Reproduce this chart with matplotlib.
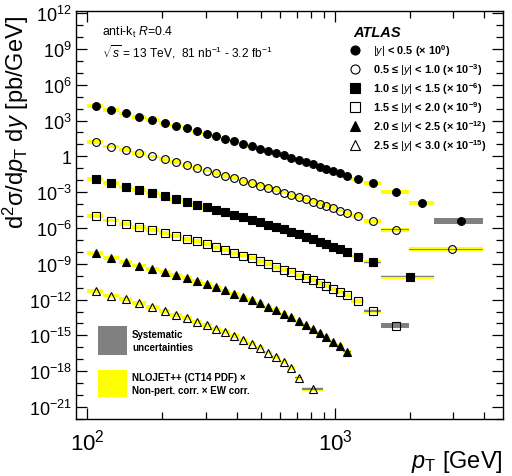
import math
import matplotlib
matplotlib.use('Agg')
import matplotlib.pyplot as plt
from matplotlib.patches import Rectangle
from matplotlib.ticker import FixedLocator, NullFormatter, FuncFormatter

plt.rcParams['font.family'] = ['Liberation Sans', 'DejaVu Sans']
plt.rcParams['mathtext.fontset'] = 'custom'
plt.rcParams['mathtext.rm'] = 'Liberation Sans'
plt.rcParams['mathtext.it'] = 'Liberation Sans:italic'
plt.rcParams['mathtext.bf'] = 'Liberation Sans:bold'

# jet pT bin edges [GeV]
pt_edges = [100, 116, 134, 152, 172, 194, 216, 240, 264, 290, 318, 346, 376, 408,
            442, 478, 516, 556, 598, 642, 688, 736, 786, 838, 894, 952, 1012, 1076,
            1162, 1310, 1530, 1992, 2500, 3937]

edges_y05 = pt_edges
edges_y10 = pt_edges[:32] + [3937]
edges_y15 = pt_edges[:31] + [2500]
edges_y20 = pt_edges[:32]
edges_y25 = pt_edges[:29]
edges_y30 = pt_edges[:22] + [894]

# d2sigma/dpT dy [pb/GeV], before the offset factors
xsec_y05 = [1.72e4, 7.66e3, 3.90e3, 2.10e3, 1.16e3, 662, 378, 220, 131, 77.8,
            47.1, 29.1, 18.0, 11.3, 7.11, 4.48, 2.88, 1.85, 1.19, 0.760,
            0.489, 0.319, 0.209, 0.136, 0.0893, 0.0585, 0.0383, 0.0241, 0.0135, 5.46e-3,
            1.08e-3, 1.22e-4, 3.58e-6]
xsec_y10 = [1.50e4, 6.64e3, 3.36e3, 1.80e3, 986, 561, 318, 185, 109, 64.4,
            38.8, 23.8, 14.7, 9.14, 5.73, 3.58, 2.29, 1.46, 0.933, 0.596,
            0.380, 0.247, 0.161, 0.104, 0.0679, 0.0443, 0.0288, 0.0180, 9.91e-3, 3.61e-3,
            7.13e-4, 1.71e-5]
xsec_y15 = [1.25e4, 5.78e3, 2.89e3, 1.50e3, 809, 453, 259, 151, 89.8, 53.3,
            32.3, 19.9, 12.3, 7.75, 4.79, 3.01, 1.90, 1.19, 0.752, 0.473,
            0.298, 0.188, 0.118, 0.0729, 0.0450, 0.0272, 0.0162, 9.08e-3, 4.05e-3, 1.32e-3,
            8.22e-5]
xsec_y20 = [9.40e3, 4.18e3, 2.13e3, 1.15e3, 644, 368, 215, 127, 75.7, 45.0,
            25.7, 15.0, 8.57, 4.90, 2.86, 1.63, 0.951, 0.555, 0.323, 0.192,
            0.114, 0.0690, 0.0410, 0.0244, 0.0142, 8.28e-3, 4.63e-3, 2.50e-3, 7.57e-4, 1.04e-4,
            6.47e-6]
xsec_y25 = [7.50e3, 3.03e3, 1.48e3, 711, 377, 207, 114, 61.5, 34.4, 19.3,
            10.6, 5.85, 3.22, 1.74, 0.937, 0.495, 0.257, 0.134, 0.0681, 0.0340,
            0.0166, 8.00e-3, 3.70e-3, 1.68e-3, 7.31e-4, 3.07e-4, 1.22e-4, 4.47e-5]
xsec_y30 = [5.52e3, 2.19e3, 1.05e3, 486, 234, 115, 55.0, 27.5, 14.0, 6.98,
            3.56, 1.81, 0.904, 0.427, 0.190, 0.0828, 0.0368, 0.0149, 5.56e-3, 1.75e-3,
            2.96e-4, 3.23e-5]

scales = [1e0, 1e-3, 1e-6, 1e-9, 1e-12, 1e-15]

# systematic uncertainty (multiplicative) for the last bins of each slice
syst_y05 = [1.05, 1.08, 1.75]
syst_y10 = [1.05, 1.1]
syst_y15 = [1.05, 1.1]
syst_y20 = [1.2, 1.65]
syst_y25 = [1.1, 1.15]
syst_y30 = [1.1, 1.15]

labels = [r'$|y|$ < 0.5 (× 10$^{\mathbf{0}}$)',
          r'0.5 ≤ $|y|$ < 1.0 (× 10$^{\mathbf{-3}}$)',
          r'1.0 ≤ $|y|$ < 1.5 (× 10$^{\mathbf{-6}}$)',
          r'1.5 ≤ $|y|$ < 2.0 (× 10$^{\mathbf{-9}}$)',
          r'2.0 ≤ $|y|$ < 2.5 (× 10$^{\mathbf{-12}}$)',
          r'2.5 ≤ $|y|$ < 3.0 (× 10$^{\mathbf{-15}}$)']

all_edges = [edges_y05, edges_y10, edges_y15, edges_y20, edges_y25, edges_y30]
all_xsec = [xsec_y05, xsec_y10, xsec_y15, xsec_y20, xsec_y25, xsec_y30]
all_syst = [syst_y05, syst_y10, syst_y15, syst_y20, syst_y25, syst_y30]
markers = ['o', 'o', 's', 's', '^', '^']
faces = ['black', 'none', 'black', 'none', 'black', 'none']

yellow = '#ffff00'
grey = '#808080'
band = 10 ** 0.16

fig = plt.figure(figsize=(5.12, 4.77), dpi=100)
ax = fig.add_axes([76 / 512, 1 - 420 / 477, 427 / 512, 408 / 477])
ax.set_xscale('log')
ax.set_yscale('log')

for edges, xsec, scale, syst, m, fc in zip(all_edges, all_xsec, scales, all_syst, markers, faces):
    lo = edges[:-1]
    hi = edges[1:]
    w = [b - a for a, b in zip(lo, hi)]
    xc = [(a + b) / 2 for a, b in zip(lo, hi)]
    y = [v * scale for v in xsec]
    ax.bar(lo, [v * band - v / band for v in y], width=w, bottom=[v / band for v in y],
           align='edge', color=yellow, lw=0, zorder=1)
    n = len(syst)
    ax.bar(lo[-n:], [v * f - v / f for v, f in zip(y[-n:], syst)], width=w[-n:],
           bottom=[v / f for v, f in zip(y[-n:], syst)],
           align='edge', color=grey, lw=0, zorder=2)
    ax.plot(xc, y, ls='none', marker=m, ms=5.6, mfc=fc, mec='black', mew=0.8, zorder=3)

ax.set_xlim(90, 4760)
ax.set_ylim(1e-22, 1.5e12)

ax.xaxis.set_major_locator(FixedLocator([100, 1000]))
ax.xaxis.set_minor_locator(FixedLocator([200, 300, 400, 500, 600, 700, 800, 900, 2000, 3000, 4000]))
ax.xaxis.set_minor_formatter(NullFormatter())
ax.yaxis.set_major_locator(FixedLocator([10.0 ** k for k in range(-21, 13, 3)]))
ax.yaxis.set_minor_locator(FixedLocator([10.0 ** k for k in range(-22, 13)]))
ax.yaxis.set_minor_formatter(NullFormatter())


def ylab(v, pos):
    k = int(round(math.log10(v)))
    return '1' if k == 0 else r'$10^{%d}$' % k


ax.yaxis.set_major_formatter(FuncFormatter(ylab))
ax.tick_params(which='both', direction='in', top=True, right=True, width=0.9)
ax.tick_params(which='major', length=8)
ax.tick_params(which='minor', length=5)
ax.tick_params(axis='x', which='major', labelsize=16, pad=7)
ax.tick_params(axis='y', which='major', labelsize=13, pad=3)
for s in ax.spines.values():
    s.set_linewidth(1.0)

ax.set_ylabel(r'd$^{2}$σ/d$p_{\mathrm{T}}$ d$y$ [pb/GeV]', fontsize=17, loc='top')
ax.yaxis.set_label_coords(-0.105, 0.99)
ax.set_xlabel(r'$p_{\mathrm{T}}$ [GeV]', fontsize=17, loc='right')
ax.xaxis.set_label_coords(1.0, -0.072)

ax.text(0.061, 0.951, r'anti-k$_{\mathrm{t}}$ $R$=0.4', transform=ax.transAxes,
        fontsize=8.8, va='center')
ax.text(0.061, 0.902, r'$\sqrt{s}$ = 13 TeV,  81 nb$^{-1}$ - 3.2 fb$^{-1}$',
        transform=ax.transAxes, fontsize=8.6, va='center')

ax.text(0.649, 0.949, 'ATLAS', transform=ax.transAxes, fontsize=10.5,
        fontweight='bold', style='italic', va='center')
for i, (lab, m, fc) in enumerate(zip(labels, markers, faces)):
    yy = 0.904 - i * 0.0466
    ax.plot([0.653], [yy], transform=ax.transAxes, ls='none', marker=m, ms=6.5,
            mfc=fc, mec='black', mew=0.8, clip_on=False)
    ax.text(0.696, yy, lab, transform=ax.transAxes, fontsize=7.9,
            fontweight='bold', va='center')

ax.add_patch(Rectangle((0.052, 0.157), 0.067, 0.071, transform=ax.transAxes,
                       color=grey, lw=0))
ax.add_patch(Rectangle((0.052, 0.054), 0.067, 0.066, transform=ax.transAxes,
                       color=yellow, lw=0))
ax.text(0.131, 0.208, 'Systematic', transform=ax.transAxes, fontsize=7,
        fontweight='bold', va='center')
ax.text(0.131, 0.176, 'uncertainties', transform=ax.transAxes, fontsize=7,
        fontweight='bold', va='center')
ax.text(0.131, 0.103, 'NLOJET++ (CT14 PDF) ×', transform=ax.transAxes, fontsize=7,
        fontweight='bold', va='center')
ax.text(0.131, 0.071, 'Non-pert. corr. × EW corr.', transform=ax.transAxes,
        fontsize=7, fontweight='bold', va='center')

fig.savefig('out.png', dpi=100)
